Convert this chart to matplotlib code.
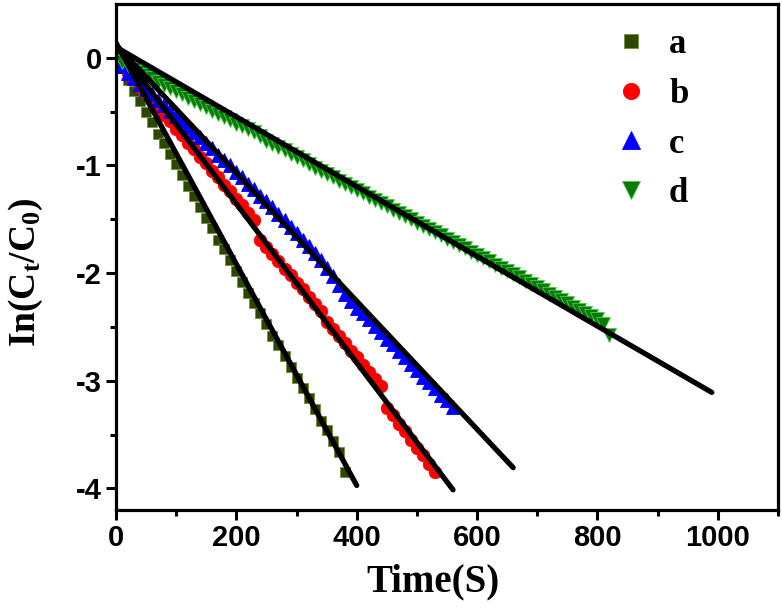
import matplotlib
matplotlib.use("Agg")
import matplotlib.pyplot as plt
import numpy as np

# ---------------- data ----------------
t_a = [0, 10, 20, 30, 40, 50, 60, 70, 80, 90, 100, 110, 120, 130, 140, 150, 160, 170, 180, 190,
       200, 210, 220, 230, 240, 250, 260, 270, 280, 290, 300, 310, 320, 330, 340, 350, 360, 370, 380]
y_a = [0.00, -0.09, -0.21, -0.31, -0.40, -0.50, -0.60, -0.71, -0.79, -0.89, -0.99, -1.09, -1.19,
       -1.28, -1.39, -1.49, -1.58, -1.69, -1.78, -1.88, -1.98, -2.08, -2.18, -2.28, -2.37, -2.47,
       -2.58, -2.67, -2.77, -2.87, -2.97, -3.07, -3.16, -3.26, -3.37, -3.46, -3.56, -3.66, -3.85]

t_b = [0, 10, 20, 30, 40, 50, 60, 70, 80, 90, 100, 110, 120, 130, 140, 150, 160, 170, 180, 190,
       200, 210, 220, 230, 240, 250, 260, 270, 280, 290, 300, 310, 320, 330, 340, 350, 360, 370,
       380, 390, 400, 410, 420, 430, 440, 450, 460, 470, 480, 490, 500, 510, 520, 530]
y_b = [0.00, -0.07, -0.14, -0.20, -0.27, -0.33, -0.40, -0.46, -0.53, -0.59, -0.66, -0.72, -0.79,
       -0.85, -0.92, -0.98, -1.05, -1.11, -1.18, -1.24, -1.31, -1.37, -1.44, -1.51, -1.69, -1.76,
       -1.82, -1.89, -1.96, -2.02, -2.09, -2.15, -2.22, -2.29, -2.35, -2.45, -2.52, -2.58, -2.65,
       -2.72, -2.78, -2.85, -2.92, -2.98, -3.05, -3.25, -3.32, -3.40, -3.47, -3.55, -3.62, -3.69,
       -3.77, -3.85]

t_c = [0, 10, 20, 30, 40, 50, 60, 70, 80, 90, 100, 110, 120, 130, 140, 150, 160, 170, 180, 190,
       200, 210, 220, 230, 240, 250, 260, 270, 280, 290, 300, 310, 320, 330, 340, 350, 360, 370,
       380, 390, 400, 410, 420, 430, 440, 450, 460, 470, 480, 490, 500, 510, 520, 530, 540, 550, 560]
y_c = [0.00, -0.08, -0.14, -0.19, -0.24, -0.29, -0.34, -0.39, -0.44, -0.49, -0.54, -0.59, -0.64,
       -0.69, -0.74, -0.79, -0.84, -0.90, -0.95, -1.00, -1.06, -1.11, -1.17, -1.22, -1.28, -1.33,
       -1.39, -1.45, -1.51, -1.57, -1.63, -1.69, -1.75, -1.81, -1.88, -1.95, -2.03, -2.11, -2.19,
       -2.26, -2.32, -2.37, -2.43, -2.49, -2.55, -2.61, -2.66, -2.72, -2.78, -2.84, -2.90, -2.96,
       -3.01, -3.07, -3.13, -3.18, -3.24]

t_d = [0, 10, 20, 30, 40, 50, 60, 70, 80, 90, 100, 110, 120, 130, 140, 150, 160, 170, 180, 190,
       200, 210, 220, 230, 240, 250, 260, 270, 280, 290, 300, 310, 320, 330, 340, 350, 360, 370,
       380, 390, 400, 410, 420, 430, 440, 450, 460, 470, 480, 490, 500, 510, 520, 530, 540, 550,
       560, 570, 580, 590, 600, 610, 620, 630, 640, 650, 660, 670, 680, 690, 700, 710, 720, 730,
       740, 750, 760, 770, 780, 790, 800, 810, 820]
y_d = [0.00, -0.04, -0.07, -0.10, -0.13, -0.16, -0.19, -0.22, -0.25, -0.28, -0.31, -0.34, -0.37,
       -0.40, -0.43, -0.46, -0.49, -0.52, -0.55, -0.58, -0.61, -0.63, -0.66, -0.69, -0.73, -0.77,
       -0.80, -0.83, -0.86, -0.89, -0.92, -0.95, -0.99, -1.02, -1.05, -1.08, -1.11, -1.14, -1.17,
       -1.20, -1.23, -1.26, -1.29, -1.32, -1.35, -1.38, -1.41, -1.44, -1.47, -1.50, -1.53, -1.56,
       -1.59, -1.62, -1.65, -1.68, -1.71, -1.74, -1.77, -1.80, -1.83, -1.86, -1.89, -1.92, -1.95,
       -1.98, -2.01, -2.04, -2.07, -2.10, -2.13, -2.16, -2.19, -2.22, -2.25, -2.28, -2.31, -2.34,
       -2.37, -2.40, -2.43, -2.47, -2.57]

# linear fits: (intercept, slope, last time of fitted line)
fit_a = (0.14, -0.01028, 400)
fit_b = (0.12, -0.00738, 560)
fit_c = (0.12, -0.00595, 660)
fit_d = (0.10, -0.00324, 990)

labels = ["a", "b", "c", "d"]
x_ticks = [0, 200, 400, 600, 800, 1000]
y_ticks = [0, -1, -2, -3, -4]

# ---------------- styling ----------------
plt.rcParams["mathtext.fontset"] = "custom"
plt.rcParams["mathtext.rm"] = "Liberation Serif:bold"
plt.rcParams["mathtext.it"] = "Liberation Serif:bold"
plt.rcParams["mathtext.bf"] = "Liberation Serif:bold"

fig = plt.figure(figsize=(7.82, 6.15), dpi=100)
ax = fig.add_axes([116 / 782, 1 - 510 / 615, (778 - 116) / 782, (510 - 4) / 615])

series = [
    (t_a, y_a, "s", "#2b4700", "#6f8f3a", 7.8),
    (t_b, y_b, "o", "#ff0000", "#ff0000", 9.0),
    (t_c, y_c, "^", "#0000ff", "#0000ff", 9.5),
    (t_d, y_d, "v", "#0a780a", "#3fcf3f", 9.5),
]
handles = []
for (tt, yy, mk, fc, ec, ms), lab in zip(series, labels):
    h, = ax.plot(tt, yy, linestyle="none", marker=mk, markersize=ms,
                 markerfacecolor=fc, markeredgecolor=ec, markeredgewidth=0.6,
                 label=lab, zorder=2)
    handles.append(h)

for b0, b1, tend in (fit_a, fit_b, fit_c, fit_d):
    xs = np.array([0, tend])
    ax.plot(xs, b0 + b1 * xs, color="black", linewidth=3.8,
            solid_capstyle="round", zorder=3)

ax.set_xlim(0, 1100)
ax.set_ylim(-4.2, 0.5)
ax.set_xticks(x_ticks)
ax.set_yticks(y_ticks)
ax.set_xticks([100, 300, 500, 700, 900, 1100], minor=True)
ax.set_yticks([-0.5, -1.5, -2.5, -3.5], minor=True)

for s in ax.spines.values():
    s.set_linewidth(2.3)
ax.tick_params(which="major", direction="out", length=7, width=2.2, pad=3)
ax.tick_params(which="minor", direction="out", length=4.5, width=2.2)

tick_font = {"family": "Liberation Sans", "weight": "bold", "size": 21}
ax.set_xticklabels([str(v) for v in x_ticks], fontdict=tick_font)
ax.set_yticklabels([str(v) for v in y_ticks], fontdict=tick_font)

ax.set_xlabel("Time(S)", fontfamily="Liberation Serif", fontweight="bold", fontsize=28)
ax.xaxis.set_label_coords((433 - 116) / 662, (510 - 563) / 506)
ax.set_ylabel(r"$\mathrm{In(C_t/C_0)}$", fontsize=27)
ax.yaxis.set_label_coords((45 - 116) / 662, (510 - 272) / 506)

leg = ax.legend(handles=handles, loc="upper left", bbox_to_anchor=(0.7515, 0.952),
                frameon=False, markerscale=1.3, handlelength=1.0, handletextpad=0.6,
                labelspacing=0.48, borderpad=0, borderaxespad=0,
                prop={"family": "Liberation Serif", "weight": "bold", "size": 25})

fig.savefig("out.png", dpi=100)
